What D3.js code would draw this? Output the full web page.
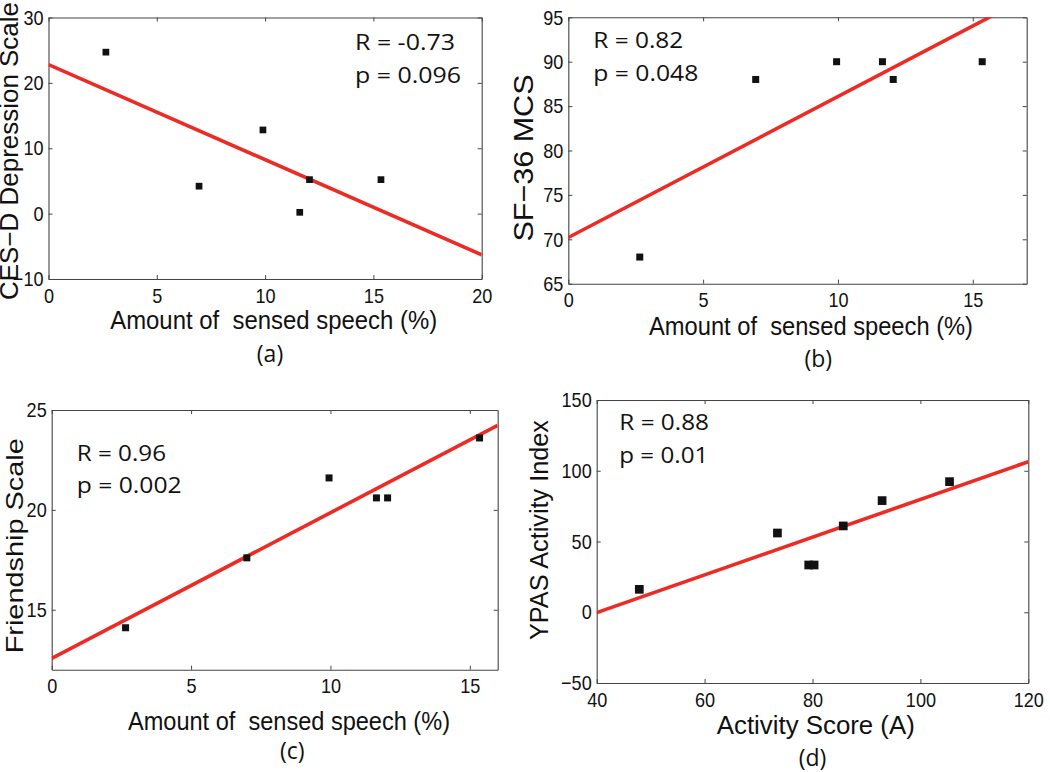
<!DOCTYPE html>
<html>
<head>
<meta charset="utf-8">
<script src="https://cdn.jsdelivr.net/npm/d3@7"></script>
<style>
  html, body { margin: 0; padding: 0; background: #fff; }
  svg { display: block; }
  text { white-space: pre; }
</style>
</head>
<body>
<svg id="chart" width="1050" height="772"></svg>
<script>
// ---------- DATA ----------
const panelIds = ["a", "b", "c", "d"];

const xLabels = ["Amount of  sensed speech (%)", "Amount of  sensed speech (%)", "Amount of  sensed speech (%)", "Activity Score (A)"];
const yLabels = ["CES\u2212D Depression Scale", "SF\u221236 MCS", "Friendship Scale", "YPAS Activity Index"];
const rTexts = ["R = -0.73", "R = 0.82", "R = 0.96", "R = 0.88"];
const pTexts = ["p = 0.096", "p = 0.048", "p = 0.002", "p = 0.01"];
const subLabels = ["(a)", "(b)", "(c)", "(d)"];

const xDomains = [[0, 20], [0, 17], [0, 16], [40, 120]];
const yDomains = [[-10, 30], [65, 95], [12, 25], [-50, 150]];

const xTicks = [[0, 5, 10, 15, 20], [0, 5, 10, 15], [0, 5, 10, 15], [40, 60, 80, 100, 120]];
const yTicks = [[-10, 0, 10, 20, 30], [65, 70, 75, 80, 85, 90, 95], [15, 20, 25], [-50, 0, 50, 100, 150]];

const pointsAX = [2.65, 6.95, 9.9, 11.6, 12.05, 15.35];
const pointsAY = [24.7, 4.2, 12.8, 0.2, 5.2, 5.2];
const pointsBX = [2.65, 6.95, 9.95, 11.65, 12.05, 15.35];
const pointsBY = [68, 88, 90, 90, 88, 90];
const pointsCX = [2.65, 7.0, 9.95, 11.65, 12.05, 15.35];
const pointsCY = [14.1, 17.6, 21.6, 20.6, 20.6, 23.6];
const pointsDX = [47.9, 73.5, 79.3, 80.3, 85.7, 92.9, 105.4];
const pointsDY = [16.2, 56, 33.4, 33.4, 61, 78.9, 92.3];

// fitted regression lines: [x, y] end points
const fitA = [[0, 22.8], [20, -6.3]];
const fitB = [[0, 70.2], [17, 97.2]];
const fitC = [[0, 12.57], [16, 24.23]];
const fitD = [[40, -0.3], [120, 106.4]];

const pointsX = [pointsAX, pointsBX, pointsCX, pointsDX];
const pointsY = [pointsAY, pointsBY, pointsCY, pointsDY];
const fits = [fitA, fitB, fitC, fitD];

// ---------- LAYOUT (positions / styles) ----------
const layout = [
  { l: 48.5, r: 481.7, t: 17.5, b: 279, ms: 6.7,
    xl: { x: 273.7, y: 329.3, len: 327, fs: 25 },
    yl: { x: 18, y: 151, len: 298, fs: 25 },
    rp: { x: 355, yr: 50, yp: 83, lr: 100, lp: 106 },
    sub: { x: 270, y: 362 } },
  { l: 568.3, r: 1026.7, t: 17.3, b: 283.7, ms: 7,
    xl: { x: 811, y: 335, len: 324, fs: 25 },
    yl: { x: 533, y: 158, len: 167, fs: 28 },
    rp: { x: 593.3, yr: 48.3, yp: 80.7, lr: 90, lp: 105 },
    sub: { x: 818.3, y: 366.7 } },
  { l: 51.7, r: 497.7, t: 410, b: 669.7, ms: 7,
    xl: { x: 289, y: 730, len: 322, fs: 25 },
    yl: { x: 22.5, y: 545.8, len: 215, fs: 24 },
    rp: { x: 76.7, yr: 461, yp: 493.3, lr: 89.3, lp: 105 },
    sub: { x: 292.2, y: 758.7 } },
  { l: 596.7, r: 1028.3, t: 400, b: 683, ms: 8.7,
    xl: { x: 815.8, y: 733.7, len: 198, fs: 25 },
    yl: { x: 548.3, y: 530, len: 220, fs: 25 },
    rp: { x: 619.3, yr: 430.3, yp: 463.3, lr: 89.7, lp: 89 },
    sub: { x: 812.5, y: 766 } }
];

const tickFont = "'Liberation Sans', Arial, Helvetica, sans-serif";
const labelFont = "'Liberation Sans', Arial, Helvetica, sans-serif";
const annFont = "'Open Sans', 'Noto Sans', sans-serif";
const frameColor = "#444";
const red = "#ec2b24";

const svg = d3.select("#chart");

function compress(sel, factor) {
  sel.each(function () {
    const len = this.getComputedTextLength();
    this.setAttribute("textLength", (len * factor).toFixed(2));
    this.setAttribute("lengthAdjust", "spacingAndGlyphs");
  });
}

function fmt(v) { return v < 0 ? "\u2212" + Math.abs(v) : String(v); }

panelIds.forEach((id, i) => {
  const L = layout[i];
  const x = d3.scaleLinear().domain(xDomains[i]).range([L.l, L.r]);
  const y = d3.scaleLinear().domain(yDomains[i]).range([L.b, L.t]);
  const g = svg.append("g").attr("class", "panel-" + id);

  // clip
  const clipId = "clip-" + id;
  svg.append("defs").append("clipPath").attr("id", clipId)
    .append("rect").attr("x", L.l).attr("y", L.t)
    .attr("width", L.r - L.l).attr("height", L.b - L.t);

  // axes
  const tickLen = 4;
  const axB = d3.axisBottom(x).tickValues(xTicks[i]).tickSizeInner(-tickLen).tickSizeOuter(0).tickPadding(8.8).tickFormat(fmt);
  const axT = d3.axisTop(x).tickValues(xTicks[i]).tickSizeInner(-tickLen).tickSizeOuter(0).tickFormat("");
  const axL = d3.axisLeft(y).tickValues(yTicks[i]).tickSizeInner(-tickLen).tickSizeOuter(0).tickPadding(5).tickFormat(fmt);
  const axR = d3.axisRight(y).tickValues(yTicks[i]).tickSizeInner(-tickLen).tickSizeOuter(0).tickFormat("");

  const gB = g.append("g").attr("transform", `translate(0,${L.b})`).call(axB);
  const gT = g.append("g").attr("transform", `translate(0,${L.t})`).call(axT);
  const gL = g.append("g").attr("transform", `translate(${L.l},0)`).call(axL);
  const gR = g.append("g").attr("transform", `translate(${L.r},0)`).call(axR);

  [gB, gT, gL, gR].forEach(a => {
    a.selectAll("path.domain").attr("stroke", frameColor).attr("stroke-width", 1.1);
    a.selectAll(".tick line").attr("stroke", frameColor).attr("stroke-width", 1);
    a.selectAll("text").attr("fill", "#111").attr("font-size", 21).attr("font-family", tickFont);
  });
  compress(gB.selectAll("text"), 0.86);
  compress(gL.selectAll("text"), 0.86);

  // regression line
  g.append("path")
    .datum(fits[i])
    .attr("clip-path", `url(#${clipId})`)
    .attr("d", d3.line().x(d => x(d[0])).y(d => y(d[1])))
    .attr("fill", "none")
    .attr("stroke", red)
    .attr("stroke-width", 3.6);

  // points
  const pts = pointsX[i].map((v, k) => [v, pointsY[i][k]]);
  g.append("g").selectAll("rect").data(pts).join("rect")
    .attr("x", d => x(d[0]) - L.ms / 2)
    .attr("y", d => y(d[1]) - L.ms / 2)
    .attr("width", L.ms).attr("height", L.ms)
    .attr("fill", "#111");

  // axis labels
  g.append("text")
    .attr("x", L.xl.x).attr("y", L.xl.y)
    .attr("xml:space", "preserve")
    .attr("text-anchor", "middle")
    .attr("font-family", labelFont).attr("font-size", L.xl.fs)
    .attr("fill", "#111")
    .attr("textLength", L.xl.len).attr("lengthAdjust", "spacingAndGlyphs")
    .text(xLabels[i]);

  g.append("text")
    .attr("transform", `translate(${L.yl.x},${L.yl.y}) rotate(-90)`)
    .attr("text-anchor", "middle")
    .attr("font-family", labelFont).attr("font-size", L.yl.fs)
    .attr("fill", "#111")
    .attr("textLength", L.yl.len).attr("lengthAdjust", "spacingAndGlyphs")
    .text(yLabels[i]);

  // R / p annotations
  g.append("text")
    .attr("x", L.rp.x).attr("y", L.rp.yr)
    .attr("font-family", annFont).attr("font-size", 22).attr("fill", "#111")
    .attr("textLength", L.rp.lr).attr("lengthAdjust", "spacingAndGlyphs")
    .text(rTexts[i]);
  g.append("text")
    .attr("x", L.rp.x).attr("y", L.rp.yp)
    .attr("font-family", annFont).attr("font-size", 22).attr("fill", "#111")
    .attr("textLength", L.rp.lp).attr("lengthAdjust", "spacingAndGlyphs")
    .text(pTexts[i]);

  // sub label
  g.append("text")
    .attr("x", L.sub.x).attr("y", L.sub.y)
    .attr("text-anchor", "middle")
    .attr("font-family", annFont).attr("font-size", 23).attr("fill", "#111")
    .text(subLabels[i]);
});
</script>
</body>
</html>
